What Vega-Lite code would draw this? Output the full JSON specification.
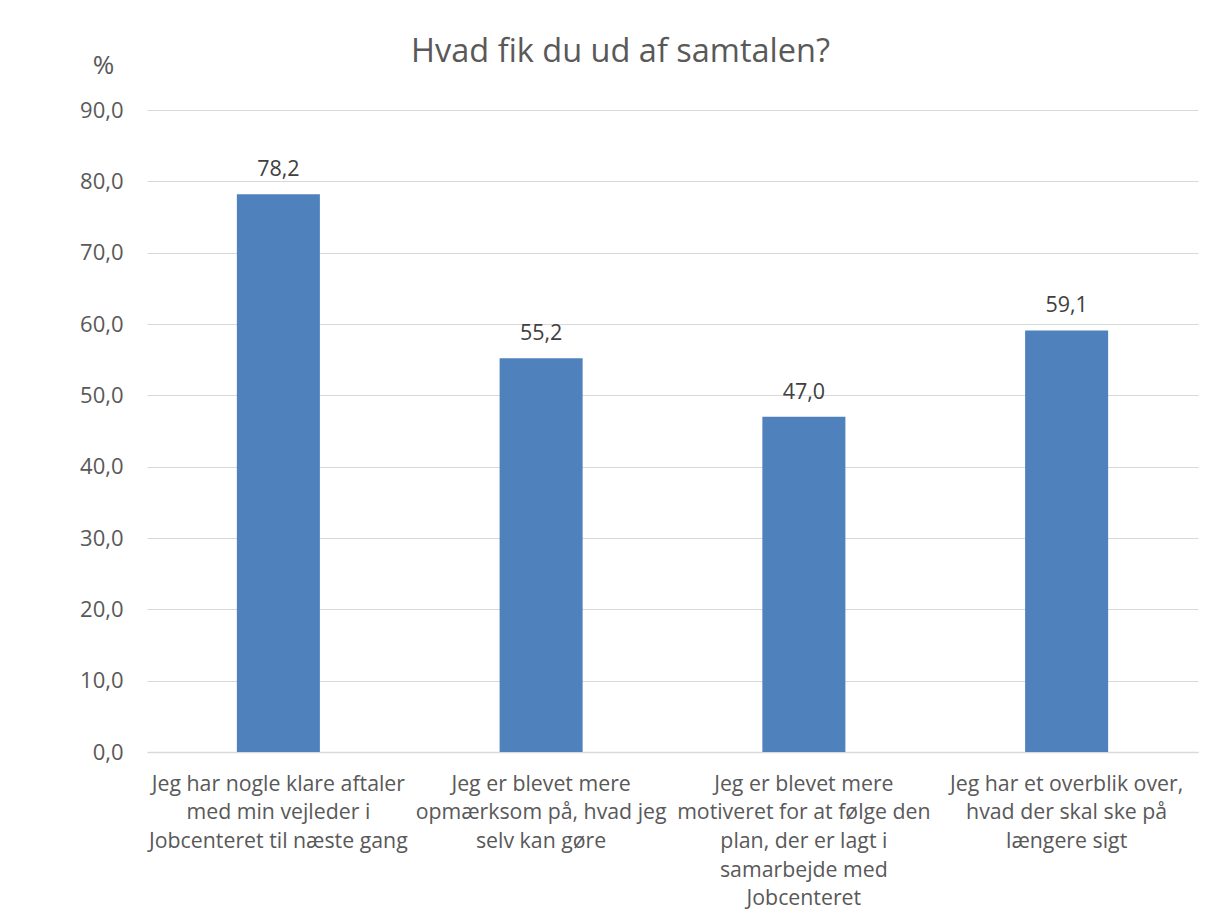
{
  "$schema": "https://vega.github.io/schema/vega-lite/v6.json",
  "autosize": "none",
  "width": 1051,
  "height": 642,
  "padding": {"left": 147, "top": 110, "right": 17, "bottom": 170},
  "background": "white",
  "config": {
    "font": "Open Sans",
    "locale": {"number": {"decimal": ",", "thousands": ".", "grouping": [3], "currency": ["", " kr."]}},
    "view": {"stroke": null}
  },
  "title": {
    "text": "Hvad fik du ud af samtalen?",
    "fontSize": 32.5,
    "fontWeight": "normal",
    "color": "#595959",
    "font": "Open Sans",
    "anchor": "middle",
    "frame": "group",
    "offset": 32,
    "dy": 48,
    "dx": -52
  },
  "data": {
    "values": [
      {"kategori": "Jeg har nogle klare aftaler|med min vejleder i|Jobcenteret til næste gang", "pct": 78.2, "orden": 1},
      {"kategori": "Jeg er blevet mere|opmærksom på, hvad jeg|selv kan gøre", "pct": 55.2, "orden": 2},
      {"kategori": "Jeg er blevet mere|motiveret for at følge den|plan, der er lagt i|samarbejde med|Jobcenteret", "pct": 47.0, "orden": 3},
      {"kategori": "Jeg har et overblik over,|hvad der skal ske på|længere sigt", "pct": 59.1, "orden": 4}
    ]
  },
  "encoding": {
    "x": {
      "field": "kategori",
      "type": "nominal",
      "sort": {"field": "orden"},
      "scale": {"paddingInner": 0.684, "paddingOuter": 0.342},
      "axis": {
        "title": null,
        "labelAngle": 0,
        "labelExpr": "split(datum.label, '|')",
        "labelFontSize": 21.3,
        "labelColor": "#595959",
        "labelLineHeight": 28.7,
        "labelPadding": 21,
        "labelBaseline": "top",
        "labelLimit": 400,
        "ticks": false,
        "domainColor": "#d9d9d9",
        "domainWidth": 1.5
      }
    },
    "y": {
      "field": "pct",
      "type": "quantitative",
      "scale": {"domain": [0, 90]},
      "axis": {
        "title": "%",
        "titleAngle": 0,
        "titleFontSize": 26,
        "titleFontWeight": "normal",
        "titleColor": "#595959",
        "titleX": -44,
        "titleY": -37,
        "titleAlign": "center",
        "titleBaseline": "alphabetic",
        "values": [0, 10, 20, 30, 40, 50, 60, 70, 80, 90],
        "format": ".1f",
        "labelFontSize": 22,
        "labelColor": "#595959",
        "labelPadding": 24,
        "ticks": false,
        "domain": false,
        "grid": true,
        "gridColor": "#d9d9d9",
        "gridWidth": 1.2
      }
    }
  },
  "layer": [
    {"mark": {"type": "bar", "color": "#4f81bd"}},
    {
      "mark": {"type": "text", "baseline": "alphabetic", "dy": -18, "fontSize": 21.5, "color": "#404040"},
      "encoding": {"text": {"field": "pct", "type": "quantitative", "format": ".1f"}}
    }
  ]
}
